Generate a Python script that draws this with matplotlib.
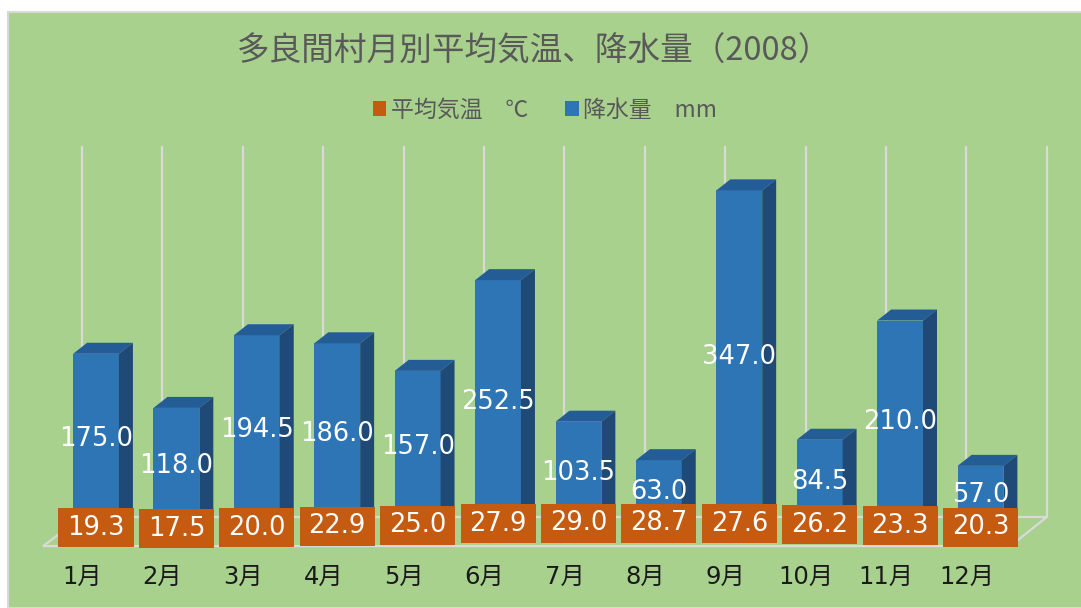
"""
多良間村 月別平均気温・降水量 (2008) - pseudo 3D column chart in the Excel style.
"""
import numpy as np
import matplotlib.pyplot as plt
from matplotlib.patches import Polygon, Rectangle, Patch

plt.rcParams['font.family'] = ['Noto Sans CJK JP', 'DejaVu Sans']

# data
months = ["1月", "2月", "3月", "4月", "5月", "6月",
          "7月", "8月", "9月", "10月", "11月", "12月"]
rain_mm = [175.0, 118.0, 194.5, 186.0, 157.0, 252.5,
           103.5, 63.0, 347.0, 84.5, 210.0, 57.0]
temp_c = [19.3, 17.5, 20.0, 22.9, 25.0, 27.9,
          29.0, 28.7, 27.6, 26.2, 23.3, 20.3]

title = "多良間村月別平均気温、降水量（2008）"
legend_labels = ["平均気温　℃", "降水量　mm"]

# colours
bg_green = "#A9D18E"
blue_front, blue_top, blue_side = "#2E75B6", "#245D95", "#1F4A77"
orange = "#C55A11"
grid_grey = "#D9D9D9"
text_grey = "#595959"

# fake-3D geometry (in data units)
bar_w = 0.57        # front face width
dx, dy = 0.174, 11.6  # depth offset of top/side faces
temp_base = -17.9   # front row (temperature) sits lower
wall_top = 393
floor_front, floor_back = -27.4, 3.2

fig = plt.figure(figsize=(10.81, 6.08), dpi=100)
fig.patch.set_facecolor("white")
frame = Rectangle((8 / 1081, 0), 1.0, 1 - 12 / 608,
                  transform=fig.transFigure, facecolor=bg_green,
                  edgecolor=grid_grey, linewidth=1.5, zorder=-10)
fig.add_artist(frame)

ax = fig.add_axes([0, 0, 1, 1])
ax.set_xlim(-1.194, 12.25)
ax.set_ylim(-92.6, 547.4)
ax.axis("off")

x = np.arange(len(months))

# back wall gridlines and floor outline
for gx in np.arange(len(months) + 1) - dx:
    ax.plot([gx, gx], [floor_back, wall_top], color=grid_grey, lw=1.6, zorder=1)
floor = [(-0.659, floor_front), (x[-1] + 0.37, floor_front),
         (x[-1] + 1 - dx, floor_back), (-dx, floor_back)]
ax.add_patch(Polygon(floor, closed=True, fill=False, edgecolor=grid_grey,
                     lw=1.6, zorder=1))

# rainfall columns (back row)
ax.bar(x, rain_mm, width=bar_w, color=blue_front, zorder=3)
for xi, v in zip(x, rain_mm):
    l, r = xi - bar_w / 2, xi + bar_w / 2
    ax.add_patch(Polygon([(l, v), (r, v), (r + dx, v + dy), (l + dx, v + dy)],
                         facecolor=blue_top, edgecolor="none", zorder=3))
    ax.add_patch(Polygon([(r, 0), (r + dx, dy), (r + dx, v + dy), (r, v)],
                         facecolor=blue_side, edgecolor="none", zorder=3))
    ax.text(xi, v / 2 - 2, f"{v:.1f}", ha="center", va="center", color="white",
            fontsize=18.5, family="DejaVu Sans", zorder=6)

# temperature columns (front row) with boxed labels
ax.bar(x, temp_c, width=bar_w, bottom=temp_base, color=orange, zorder=4)
box_w, box_h = 0.933, 41
for xi, t in zip(x, temp_c):
    cy = temp_base + t / 2
    ax.add_patch(Rectangle((xi - box_w / 2, cy - box_h / 2), box_w, box_h,
                           facecolor=orange, edgecolor="none", zorder=5))
    ax.text(xi, cy, f"{t:.1f}", ha="center", va="center", color="white",
            fontsize=18.5, family="DejaVu Sans", zorder=6)

# category labels along the front edge
for xi, m in zip(x, months):
    ax.text(xi - dx, -60, m, ha="center", va="center", color="#1A1A1A",
            fontsize=17.5, family=["DejaVu Sans", "Noto Sans CJK JP"])

fig.text(534 / 1081, 1 - 52 / 608, title, ha="center", va="center",
         color=text_grey, fontsize=23.5)

handles = [Patch(facecolor=orange), Patch(facecolor=blue_front)]
fig.legend(handles, legend_labels, loc="center", ncol=2, frameon=False,
           bbox_to_anchor=(545 / 1081, 1 - 110 / 608), fontsize=16.5,
           labelcolor=text_grey, handlelength=0.6, handleheight=0.6,
           handletextpad=0.2, columnspacing=1.6)

fig.savefig("out.png", dpi=100)
